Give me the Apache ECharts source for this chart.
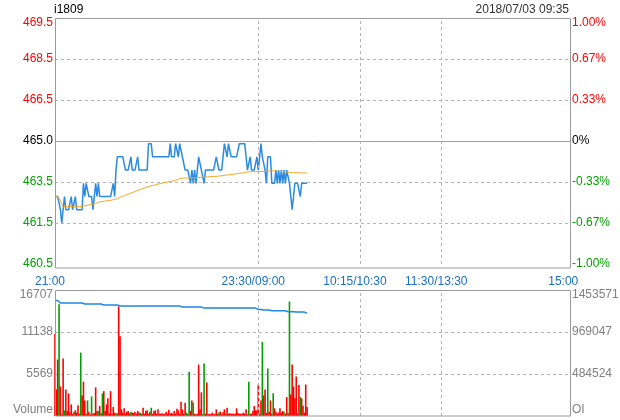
<!DOCTYPE html>
<html><head><meta charset="utf-8">
<script src="https://cdn.jsdelivr.net/npm/echarts@6/dist/echarts.min.js"></script>
<style>html,body{margin:0;padding:0;background:#fff}#c{width:620px;height:420px}</style>
</head><body><div id="c"></div>
<script>
const symbolName = 'i1809';
const stamp = '2018/07/03 09:35';
const timeLabels = ['21:00', '23:30/09:00', '10:15/10:30', '11:30/13:30', '15:00'];
const timeTicks = [0, 150, 225, 285, 375];
const sessionBreaks = [150, 225, 285];
const priceLabels = ['460.5', '461.5', '463.5', '465.0', '466.5', '468.5', '469.5'];
const pctLabels = ['-1.00%', '-0.67%', '-0.33%', '0%', '0.33%', '0.67%', '1.00%'];
const volLabels = ['Volume', '5569', '11138', '16707'];
const oiLabels = ['OI', '484524', '969047', '1453571'];
const prevClose = 465.0;
const priceMin = 460.35, priceMax = 469.65, priceStep = 1.55;
const volMax = 16707, oiMax = 1453571;

const price = [
462.9,462.9,462.9,462.9,462.4,461.9,461.9,462.9,462.4,462.4,
462.4,462.4,462.9,462.4,462.4,462.9,462.4,462.4,462.4,462.4,
462.4,463.4,462.9,463.4,463.4,462.9,462.9,462.9,462.4,462.9,
463.4,462.9,463.4,462.9,462.9,462.9,462.9,462.9,462.9,462.9,
462.9,462.9,462.9,463.4,462.9,463.9,464.4,464.4,464.4,464.4,
464.4,464.4,463.9,463.9,463.9,463.9,464.4,463.9,463.9,463.9,
463.9,464.4,463.9,463.9,463.9,463.9,463.9,463.9,463.9,464.9,
464.9,464.9,464.4,464.4,464.4,464.4,464.4,464.4,464.4,464.4,
464.4,464.4,464.4,464.4,464.4,464.9,464.4,464.4,464.4,464.9,
464.9,464.4,464.9,464.9,464.4,464.4,463.9,463.9,463.9,463.9,
463.4,463.9,463.4,463.9,463.4,463.9,464.4,464.4,463.9,463.9,
463.4,463.9,463.9,463.9,463.9,463.9,463.9,463.9,463.9,464.4,
464.4,463.9,463.9,463.9,463.9,464.9,464.9,464.4,464.9,464.9,
464.4,464.4,464.4,464.4,464.4,464.4,464.9,464.9,464.9,464.9,
464.9,464.9,463.9,463.9,464.4,463.9,463.9,463.9,463.9,464.4,
463.9,464.4,464.9,464.4,464.4,463.9,463.4,464.4,464.4,464.4,
463.4,463.4,463.4,463.9,463.4,463.9,463.4,463.9,463.4,463.9,
463.4,463.9,463.9,463.4,462.9,462.4,462.9,463.4,463.4,463.4,
463.4,462.9,463.4,463.4,463.4,463.4,463.4
];
const avgPrice = [
462.91,462.91,462.91,462.91,462.75,462.62,462.52,462.52,462.52,462.52,
462.52,462.52,462.52,462.52,462.52,462.52,462.52,462.52,462.52,462.52,
462.52,462.52,462.55,462.57,462.57,462.59,462.60,462.60,462.61,462.62,
462.64,462.66,462.68,462.71,462.71,462.72,462.72,462.73,462.74,462.74,
462.75,462.76,462.77,462.78,462.79,462.80,462.82,462.84,462.87,462.89,
462.91,462.93,462.95,462.97,462.99,463.01,463.03,463.05,463.07,463.09,
463.11,463.13,463.15,463.17,463.19,463.21,463.22,463.24,463.26,463.27,
463.29,463.31,463.32,463.33,463.34,463.35,463.37,463.38,463.39,463.40,
463.42,463.43,463.44,463.45,463.46,463.47,463.48,463.49,463.50,463.52,
463.53,463.55,463.57,463.59,463.59,463.59,463.60,463.60,463.60,463.61,
463.61,463.61,463.61,463.62,463.62,463.62,463.62,463.63,463.63,463.63,
463.64,463.64,463.64,463.65,463.65,463.65,463.66,463.66,463.66,463.67,
463.67,463.68,463.68,463.69,463.69,463.70,463.71,463.71,463.72,463.72,
463.73,463.74,463.75,463.75,463.76,463.77,463.78,463.78,463.79,463.80,
463.81,463.82,463.83,463.84,463.84,463.84,463.84,463.84,463.84,463.84,
463.84,463.84,463.85,463.85,463.85,463.85,463.86,463.86,463.86,463.87,
463.87,463.87,463.87,463.86,463.86,463.86,463.85,463.85,463.84,463.84,
463.83,463.83,463.82,463.81,463.81,463.81,463.80,463.80,463.80,463.80,
463.80,463.80,463.79,463.79,463.79,463.79,463.79
];
const volume = [
10870,3520,7480,14830,3920,220,7620,750,3520,660,
3000,450,1540,310,580,750,450,1410,310,8410,
2730,4540,2070,310,2070,580,220,2600,310,400,
3790,660,660,1320,360,3000,3300,660,1540,2340,
360,3300,310,1190,450,360,360,14520,10560,880,
450,1020,310,580,660,360,580,450,400,580,
310,660,450,445,300,1100,300,660,750,300,
580,1100,300,660,750,300,880,300,300,360,
300,300,580,300,840,300,450,300,660,300,
970,750,300,1900,880,300,1770,450,310,5860,
660,2070,1770,300,220,300,6820,880,3130,220,
6960,300,4450,220,300,220,450,220,300,880,
300,450,580,220,490,880,310,1100,300,360,
310,300,310,300,1020,400,300,310,300,450,
300,880,220,4540,300,310,660,1320,750,750,
4180,300,2070,9820,2730,3520,400,6300,580,2070,
300,3000,1020,580,300,450,1020,450,660,580,
300,2510,400,15180,2860,6820,3920,2340,5240,300,
4100,2510,2340,1370,450,4180,1190
];
const volDir = [
'r','r','r','g','r','r','r','g','r','r',
'r','r','r','r','g','r','r','r','r','g',
'r','r','r','r','g','r','r','g','r','r',
'r','r','g','r','r','g','r','r','r','r',
'r','r','r','r','r','g','g','r','r','r',
'r','r','r','r','r','r','g','r','r','r',
'r','r','r','g','r','r','r','r','r','r',
'r','g','r','r','r','r','r','r','r','r',
'r','r','r','r','r','r','r','r','r','r',
'r','r','r','r','r','r','r','g','r','g',
'r','r','g','r','r','r','r','r','r','g',
'g','r','r','r','r','r','r','r','r','r',
'r','g','r','r','r','r','g','r','r','r',
'r','r','r','r','r','r','r','r','r','r',
'r','r','r','g','r','r','r','r','r','r',
'r','r','r','g','r','r','r','g','r','r',
'r','g','r','r','r','r','r','r','r','g',
'r','r','r','g','r','r','r','r','r','r',
'r','g','r','r','r','r','r'
];
const openInterest = [
1333000,1333000,1333000,1333000,1302800,1302800,1302800,1302800,1302800,1302800,
1302800,1302800,1302800,1302800,1302800,1302800,1302800,1302800,1302800,1302800,
1302800,1291200,1291200,1291200,1291200,1291200,1291200,1291200,1291200,1291200,
1291200,1291200,1291200,1291200,1291200,1279700,1279700,1279700,1279700,1279700,
1279700,1279700,1279700,1279700,1279700,1279700,1279700,1268100,1268100,1268100,
1268100,1268100,1268100,1268100,1268100,1268100,1268100,1268100,1268100,1268100,
1268100,1268100,1268100,1268100,1268100,1268100,1268100,1268100,1268100,1268100,
1268100,1268100,1268100,1268100,1268100,1268100,1268100,1268100,1268100,1268100,
1268100,1268100,1268100,1268100,1268100,1268100,1268100,1268100,1268100,1268100,
1268100,1268100,1268100,1256500,1256500,1256500,1256500,1256500,1256500,1256500,
1256500,1256500,1256500,1256500,1256500,1256500,1256500,1256500,1256500,1256500,
1244900,1244900,1244900,1244900,1244900,1244900,1244900,1244900,1244900,1244900,
1244900,1244900,1244900,1244900,1244900,1244900,1244900,1244900,1244900,1244900,
1244900,1244900,1244900,1244900,1244900,1244900,1244900,1244900,1244900,1244900,
1244900,1244900,1244900,1244900,1244900,1244900,1244900,1244900,1244900,1244900,
1228700,1228700,1228700,1221700,1221700,1221700,1221700,1221700,1221700,1221700,
1213600,1213600,1213600,1213600,1213600,1213600,1213600,1213600,1213600,1213600,
1213600,1202000,1202000,1202000,1202000,1202000,1202000,1205000,1198500,1198500,
1198500,1198500,1198500,1198500,1198500,1186900,1186900
];

const FONT = '"Liberation Sans", Arial, sans-serif';
const RED = '#ff0000', GREEN = '#00a000', GRAY = '#808080';
const dash = { color: '#b4b4b4', type: [3, 3], width: 1 };

function priceIdx(v) { return Math.round((v - priceMin) / priceStep); }
function txt(color, extra) { return Object.assign({ color: color, fontSize: 12, fontFamily: FONT }, extra || {}); }

const chart = echarts.init(document.getElementById('c'), null, { renderer: 'canvas' });
chart.setOption({
  animation: false,
  backgroundColor: '#fff',
  textStyle: { fontFamily: FONT },
  title: [
    { text: symbolName, left: 54, top: 4, padding: 0, textStyle: { fontSize: 12, fontWeight: 'normal', color: '#000', fontFamily: FONT } },
    { text: stamp, right: 51, top: 4, padding: 0, textStyle: { fontSize: 12, fontWeight: 'normal', color: '#333', fontFamily: FONT } }
  ],
  grid: [
    { left: 55, top: 18, width: 515, height: 246, outerBoundsMode: 'none', containLabel: false },
    { left: 55, top: 290, width: 515, height: 126, outerBoundsMode: 'none', containLabel: false }
  ],
  xAxis: [
    { type: 'value', gridIndex: 0, min: 0, max: 380,
      axisLine: { show: false }, axisTick: { show: false }, splitLine: { show: false },
      axisLabel: { customValues: timeTicks, margin: 12, showMinLabel: true, showMaxLabel: true,
        formatter: function (v) { const i = timeTicks.indexOf(v); if (i < 0) return ''; return (i === timeTicks.length - 1 ? '{e|' : '{p|') + timeLabels[i] + '}'; },
        rich: { p: txt('#1a6fc0', { padding: [0, 10, 0, 0] }), e: txt('#1a6fc0') } } },
    { type: 'value', gridIndex: 1, min: 0, max: 380,
      axisLine: { show: false }, axisTick: { show: false }, splitLine: { show: false }, axisLabel: { show: false } }
  ],
  yAxis: [
    { type: 'value', gridIndex: 0, position: 'left', min: priceMin, max: priceMax, interval: priceStep,
      axisLine: { show: false }, axisTick: { show: false },
      splitLine: { show: true, showMinLine: false, showMaxLine: false, lineStyle: dash },
      axisLabel: { margin: 2,
        formatter: function (v) { const i = priceIdx(v); const s = i > 3 ? 'r' : (i < 3 ? 'g' : 'k'); return '{' + s + (i === 6 ? 't' : '') + '|' + priceLabels[i] + '}'; },
        rich: { r: txt(RED), g: txt(GREEN), k: txt('#000'), rt: txt(RED, { padding: [9, 0, 0, 0] }) } } },
    { type: 'value', gridIndex: 0, position: 'right', min: priceMin, max: priceMax, interval: priceStep,
      axisLine: { show: false }, axisTick: { show: false }, splitLine: { show: false },
      axisLabel: { margin: 2,
        formatter: function (v) { const i = priceIdx(v); const s = i > 3 ? 'r' : (i < 3 ? 'g' : 'k'); return '{' + s + (i === 6 ? 't' : '') + '|' + pctLabels[i] + '}'; },
        rich: { r: txt(RED), g: txt(GREEN), k: txt('#000'), rt: txt(RED, { padding: [9, 0, 0, 0] }) } } },
    { type: 'value', gridIndex: 1, position: 'left', min: 0, max: volMax, interval: volMax / 3,
      axisLine: { show: false }, axisTick: { show: false },
      splitLine: { show: true, showMinLine: false, showMaxLine: false, lineStyle: dash },
      axisLabel: { margin: 2,
        formatter: function (v) { const i = Math.round(v / (volMax / 3)); return '{' + (i === 3 ? 't' : (i === 0 ? 'b' : 'n')) + '|' + volLabels[i] + '}'; },
        rich: { n: txt(GRAY), t: txt(GRAY, { padding: [10, 0, 0, 0] }), b: txt(GRAY, { padding: [0, 0, 13, 0] }) } } },
    { type: 'value', gridIndex: 1, position: 'right', min: 0, max: oiMax, interval: oiMax / 3,
      axisLine: { show: false }, axisTick: { show: false }, splitLine: { show: false },
      axisLabel: { margin: 2,
        formatter: function (v) { const i = Math.round(v / (oiMax / 3)); return '{' + (i === 3 ? 't' : (i === 0 ? 'b' : 'n')) + '|' + oiLabels[i] + '}'; },
        rich: { n: txt(GRAY), t: txt(GRAY, { padding: [10, 0, 0, 0] }), b: txt(GRAY, { padding: [0, 0, 13, 0] }) } } }
  ],
  graphic: [
    { type: 'rect', z: 100, silent: true, shape: { x: 55.5, y: 18.5, width: 515, height: 249.5 }, style: { fill: null, stroke: '#9a9a9a', lineWidth: 1 } },
    { type: 'rect', z: 100, silent: true, shape: { x: 55.5, y: 290.5, width: 515, height: 125.5 }, style: { fill: null, stroke: '#9a9a9a', lineWidth: 1 } }
  ],
  series: [
    { type: 'line', xAxisIndex: 0, yAxisIndex: 0, showSymbol: false, silent: true, z: 3,
      data: price.map(function (v, i) { return [i, v]; }),
      lineStyle: { color: '#2b8be2', width: 1.5 },
      markLine: { silent: true, symbol: 'none', label: { show: false }, animation: false,
        data: [{ yAxis: prevClose, lineStyle: { color: '#a0a0a0', type: 'solid', width: 1 } }]
          .concat(sessionBreaks.map(function (b) { return { xAxis: b, lineStyle: dash }; })) } },
    { type: 'line', xAxisIndex: 0, yAxisIndex: 0, showSymbol: false, silent: true, z: 4,
      data: avgPrice.map(function (v, i) { return [i, v]; }),
      lineStyle: { color: '#f5a623', width: 1 } },
    { type: 'bar', xAxisIndex: 1, yAxisIndex: 2, silent: true, barWidth: 1.6,
      data: volume.map(function (v, i) { return [i, v]; }),
      itemStyle: { color: function (p) { return volDir[p.dataIndex] === 'g' ? GREEN : RED; } },
      markLine: { silent: true, symbol: 'none', label: { show: false }, animation: false,
        data: sessionBreaks.map(function (b) { return { xAxis: b, lineStyle: dash }; }) } },
    { type: 'line', xAxisIndex: 1, yAxisIndex: 3, showSymbol: false, silent: true, z: 4,
      data: openInterest.map(function (v, i) { return [i, v]; }),
      lineStyle: { color: '#1e88e5', width: 1.5 } }
  ]
});
</script></body></html>
